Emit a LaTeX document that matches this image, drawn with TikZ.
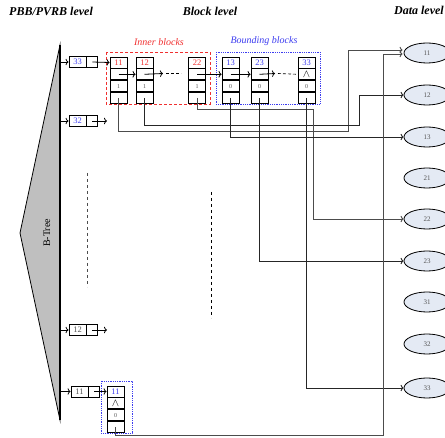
\documentclass[tikz,border=0pt]{standalone}
\usepackage{fontspec}
\setmainfont{Liberation Serif}
\usetikzlibrary{shapes.geometric,calc,arrows.meta}
\definecolor{tblue}{HTML}{3C3CF0}
\definecolor{tred}{HTML}{F03030}
\definecolor{ellfill}{HTML}{E4EAF4}
\definecolor{tgray}{HTML}{555555}
\tikzset{
  cell/.style={draw, line width=0.8pt, minimum width=17pt, minimum height=11pt, inner sep=0pt, font=\fontsize{8.5}{9}\selectfont},
  pcell/.style={draw, line width=0.8pt, minimum width=17pt, minimum height=11pt, inner sep=0pt, font=\fontsize{8.5}{9}\selectfont},
  pcellr/.style={draw, line width=0.8pt, minimum width=11pt, minimum height=11pt, inner sep=0pt},
  link/.style={line width=0.8pt, -{To[length=3pt,width=6.5pt]}},
  wirea/.style={line width=0.9pt, black!85, -{To[length=3pt,width=6.5pt]}},
  dataell/.style={ellipse, draw, line width=0.8pt, fill=ellfill, minimum width=46pt, minimum height=20pt, inner sep=0pt, font=\fontsize{7}{8}\selectfont, text=tgray},
  header/.style={font=\fontsize{12}{13}\selectfont\bfseries\itshape},
  grouplabel/.style={font=\fontsize{10}{11}\selectfont\itshape}
}
\newcommand\mkblock[7]{%
  \node[cell,text=#5] (#1a) at (#2,#3) {#4};
  \node[cell,anchor=north,font=\fontsize{11}{11}\selectfont] (#1b) at (#1a.south) {#6};
  \node[cell,anchor=north,font=\fontsize{6}{6}\selectfont,text=tgray] (#1c) at (#1b.south) {#7};
  \node[cell,anchor=north] (#1d) at (#1c.south) {};
}
\begin{document}
\begin{tikzpicture}[x=1pt,y=-1pt]
\useasboundingbox (0,0) rectangle (445,438);
% headers
\node[header] (h1) at (51,11) {PBB/PVRB level};
\node[header] (h2) at (210,11) {Block level};
\node[header,anchor=east,inner sep=1pt] (h3) at (445,10) {Data level};
% B-tree
\draw[line width=0.8pt, fill=black!25] (60,45) -- (20,233) -- (60,420) -- cycle;
\draw[line width=1.1pt] (60,45) -- (60,420);
\node[rotate=90, font=\fontsize{10}{11}\selectfont] (bt) at (47,233) {B-Tree};
% PBB entries
\node[pcell,text=tblue] (p33) at (77.5,62) {33};
\node[pcellr,anchor=west] (p33r) at (p33.east) {};
\node[pcell,text=tblue] (p32) at (77.5,121) {32};
\node[pcellr,anchor=west] (p32r) at (p32.east) {};
\node[pcell,text=tgray] (p12) at (77.5,330) {12};
\node[pcellr,anchor=west] (p12r) at (p12.east) {};
\node[pcell,text=tgray] (p11) at (79.5,391.5) {11};
\node[pcellr,anchor=west] (p11r) at (p11.east) {};
\coordinate (t33) at (60,62);
\coordinate (t32) at (60,121);
\coordinate (t12) at (60,330);
\coordinate (t11) at (60,391.5);
\draw[link] (t33) -- (p33.west);
\draw[link] (t32) -- (p32.west);
\draw[link] (t12) -- (p12.west);
\draw[link] (t11) -- (p11.west);
% blocks
\mkblock{b11}{118.5}{62.5}{11}{tred}{}{1}
\mkblock{b12}{144.5}{62.5}{12}{tred}{}{1}
\mkblock{b22}{197}{62.5}{22}{tred}{}{1}
\mkblock{b13}{230.5}{62.5}{13}{tblue}{}{0}
\mkblock{b23}{259.5}{62.5}{23}{tblue}{}{0}
\mkblock{b33}{306.5}{62.5}{33}{tblue}{$\wedge$}{0}
\mkblock{bb11}{115.5}{391.5}{11}{tblue}{$\wedge$}{0}
% group boxes
\draw[tred, densely dashed, line width=0.8pt] (106,52) rectangle (210,104);
\draw[tblue, densely dotted, line width=0.8pt] (216,52) rectangle (320,104);
\draw[tblue, densely dotted, line width=0.8pt] (101,381) rectangle (132,433);
\node[grouplabel,text=tred] (lin) at (159,42) {Inner blocks};
\node[grouplabel,text=tblue] (lbd) at (264,41) {Bounding blocks};
% pointers PBB -> blocks
\coordinate (e32) at (107,121);
\coordinate (e12) at (107,330);
\draw[link] (p33r.center) -- (b11a.west);
\draw[link] (p32r.center) -- (e32);
\draw[link] (p12r.center) -- (e12);
\draw[link] (p11r.center) -- (bb11a.west);
% next pointers
\coordinate (n1) at (163,73.5);
\coordinate (n1a) at (166,73.5);
\coordinate (n1b) at (181,73.5);
\coordinate (n2) at (275,73.5);
\coordinate (n2a) at (278,73.5);
\draw[link] (b11b.center) -- (b12b.west);
\draw[link] (b12b.center) -- (n1);
\draw[densely dashed, line width=0.6pt] (n1a) -- (n1b);
\draw[link] (b22b.center) -- (b13b.west);
\draw[link] (b13b.center) -- (b23b.west);
\draw[link] (b23b.center) -- (n2);
\draw[densely dashed, line width=0.6pt] (n2a) -- (b33b.west);
% data level
\foreach \n/\y in {11/53,12/95,13/137,21/178,22/219,23/261,31/302,32/344,33/388}{
  \node[dataell] (e\n) at (427,\y) {\n};
}
% dashed separators
\draw[dashed, line width=0.7pt, black!70] (87,173) -- (87,287);
\draw[dashed, line width=0.7pt] (211,192) -- (211,318);
% connectors to data
\draw[wirea, black!70] (b11d.center) |- (348,131) |- ($(e11.west)+(-1,-3)$);
\draw[wirea] (b12d.center) |- (359,125) |- (e12.west);
\draw[wirea, black!70] (b22d.center) |- (313,109) |- (e22.west);
\draw[wirea] (b13d.center) |- (e13.west);
\draw[wirea] (b23d.center) |- (e23.west);
\draw[wirea] (b33d.center) |- (e33.west);
\draw[wirea, black!70] (bb11d.center) |- (383,435) |- ($(e11.west)+(-1,1)$);
\end{tikzpicture}
\end{document}
